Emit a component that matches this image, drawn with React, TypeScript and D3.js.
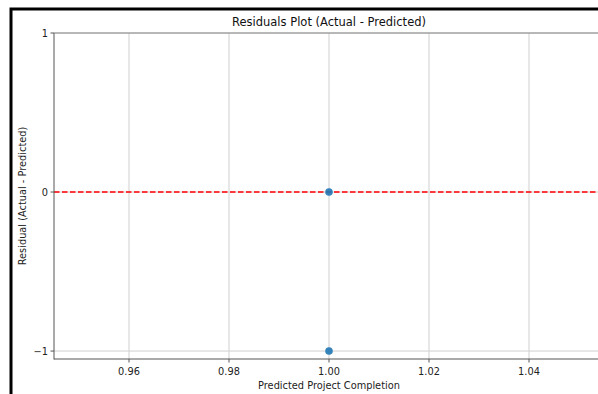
import React, { useEffect, useRef } from "react";
import * as d3 from "d3";

// residuals data
const predicted = [1.0, 1.0];
const residuals = [0, -1];
const xTicks = [0.96, 0.98, 1.0, 1.02, 1.04];
const yTicks = [-1, 0, 1];

export default function App() {
  const ref = useRef<SVGSVGElement | null>(null);

  useEffect(() => {
    var width = 598,
      height = 394;
    var left = 54,
      right = 604,
      top = 33,
      bottom = 359;

    var svg = d3.select(ref.current);
    svg.selectAll("*").remove();

    var x = d3.scaleLinear().domain([0.945, 1.055]).range([left, right]);
    var y = d3.scaleLinear().domain([-1.05, 1]).range([bottom, top]);

    svg.append("rect").attr("width", width).attr("height", height).attr("fill", "white");

    // figure frame (cropped)
    svg
      .append("rect")
      .attr("x", 11)
      .attr("y", 9)
      .attr("width", 700)
      .attr("height", 500)
      .attr("fill", "none")
      .attr("stroke", "black")
      .attr("stroke-width", 3);

    var font = "DejaVu Sans, sans-serif";
    var fs = "9.8px";

    // grid
    svg
      .append("g")
      .selectAll("line")
      .data(xTicks)
      .enter()
      .append("line")
      .attr("x1", (d) => x(d))
      .attr("x2", (d) => x(d))
      .attr("y1", top)
      .attr("y2", bottom)
      .attr("stroke", "#cfcfcf")
      .attr("stroke-width", 1);
    svg
      .append("g")
      .selectAll("line")
      .data(yTicks)
      .enter()
      .append("line")
      .attr("x1", left)
      .attr("x2", right)
      .attr("y1", (d) => y(d))
      .attr("y2", (d) => y(d))
      .attr("stroke", "#cfcfcf")
      .attr("stroke-width", 1);

    // zero line
    svg
      .append("line")
      .attr("x1", left)
      .attr("x2", right)
      .attr("y1", y(0))
      .attr("y2", y(0))
      .attr("stroke", "#ff0000")
      .attr("stroke-width", 1.3)
      .attr("stroke-dasharray", "5.5,2.5");

    // points
    svg
      .append("g")
      .selectAll("circle")
      .data(predicted)
      .enter()
      .append("circle")
      .attr("cx", (d) => x(d))
      .attr("cy", (d, i) => y(residuals[i]))
      .attr("r", 3.8)
      .attr("fill", "#1f77b4")
      .attr("fill-opacity", 0.9);

    // spines
    var spine = "#555";
    svg.append("line").attr("x1", left).attr("x2", left).attr("y1", top).attr("y2", bottom + 0.5).attr("stroke", spine);
    svg.append("line").attr("x1", left).attr("x2", right).attr("y1", bottom).attr("y2", bottom).attr("stroke", spine);
    svg.append("line").attr("x1", left).attr("x2", right).attr("y1", top).attr("y2", top).attr("stroke", "#888");

    // x ticks
    var xt = svg.append("g").selectAll("g").data(xTicks).enter().append("g");
    xt.append("line")
      .attr("x1", (d) => x(d))
      .attr("x2", (d) => x(d))
      .attr("y1", bottom)
      .attr("y2", bottom + 3.5)
      .attr("stroke", spine);
    xt.append("text")
      .attr("x", (d) => x(d))
      .attr("y", bottom + 16)
      .attr("text-anchor", "middle")
      .style("font-family", font)
      .style("font-size", fs)
      .attr("fill", "#222")
      .text((d) => d3.format(".2f")(d));

    // y ticks
    var yt = svg.append("g").selectAll("g").data(yTicks).enter().append("g");
    yt.append("line")
      .attr("x1", left - 3.5)
      .attr("x2", left)
      .attr("y1", (d) => y(d))
      .attr("y2", (d) => y(d))
      .attr("stroke", spine);
    yt.append("text")
      .attr("x", left - 6)
      .attr("y", (d) => y(d) + 3.5)
      .attr("text-anchor", "end")
      .style("font-family", font)
      .style("font-size", fs)
      .attr("fill", "#222")
      .text((d) => (d < 0 ? "\u2212" + Math.abs(d) : String(d)));

    // labels
    svg
      .append("text")
      .attr("x", (left + right) / 2)
      .attr("y", 26)
      .attr("text-anchor", "middle")
      .style("font-family", font)
      .style("font-size", "11.5px")
      .attr("fill", "#111")
      .text("Residuals Plot (Actual - Predicted)");
    svg
      .append("text")
      .attr("x", (left + right) / 2)
      .attr("y", 389)
      .attr("text-anchor", "middle")
      .style("font-family", font)
      .style("font-size", fs)
      .attr("fill", "#222")
      .text("Predicted Project Completion");
    svg
      .append("text")
      .attr("transform", "translate(26," + (top + bottom) / 2 + ") rotate(-90)")
      .attr("text-anchor", "middle")
      .style("font-family", font)
      .style("font-size", fs)
      .attr("fill", "#222")
      .text("Residual (Actual - Predicted)");
  }, []);

  return (
    <svg
      ref={ref}
      width={598}
      height={394}
      style={{ position: "absolute", left: 0, top: 0 }}
    ></svg>
  );
}
